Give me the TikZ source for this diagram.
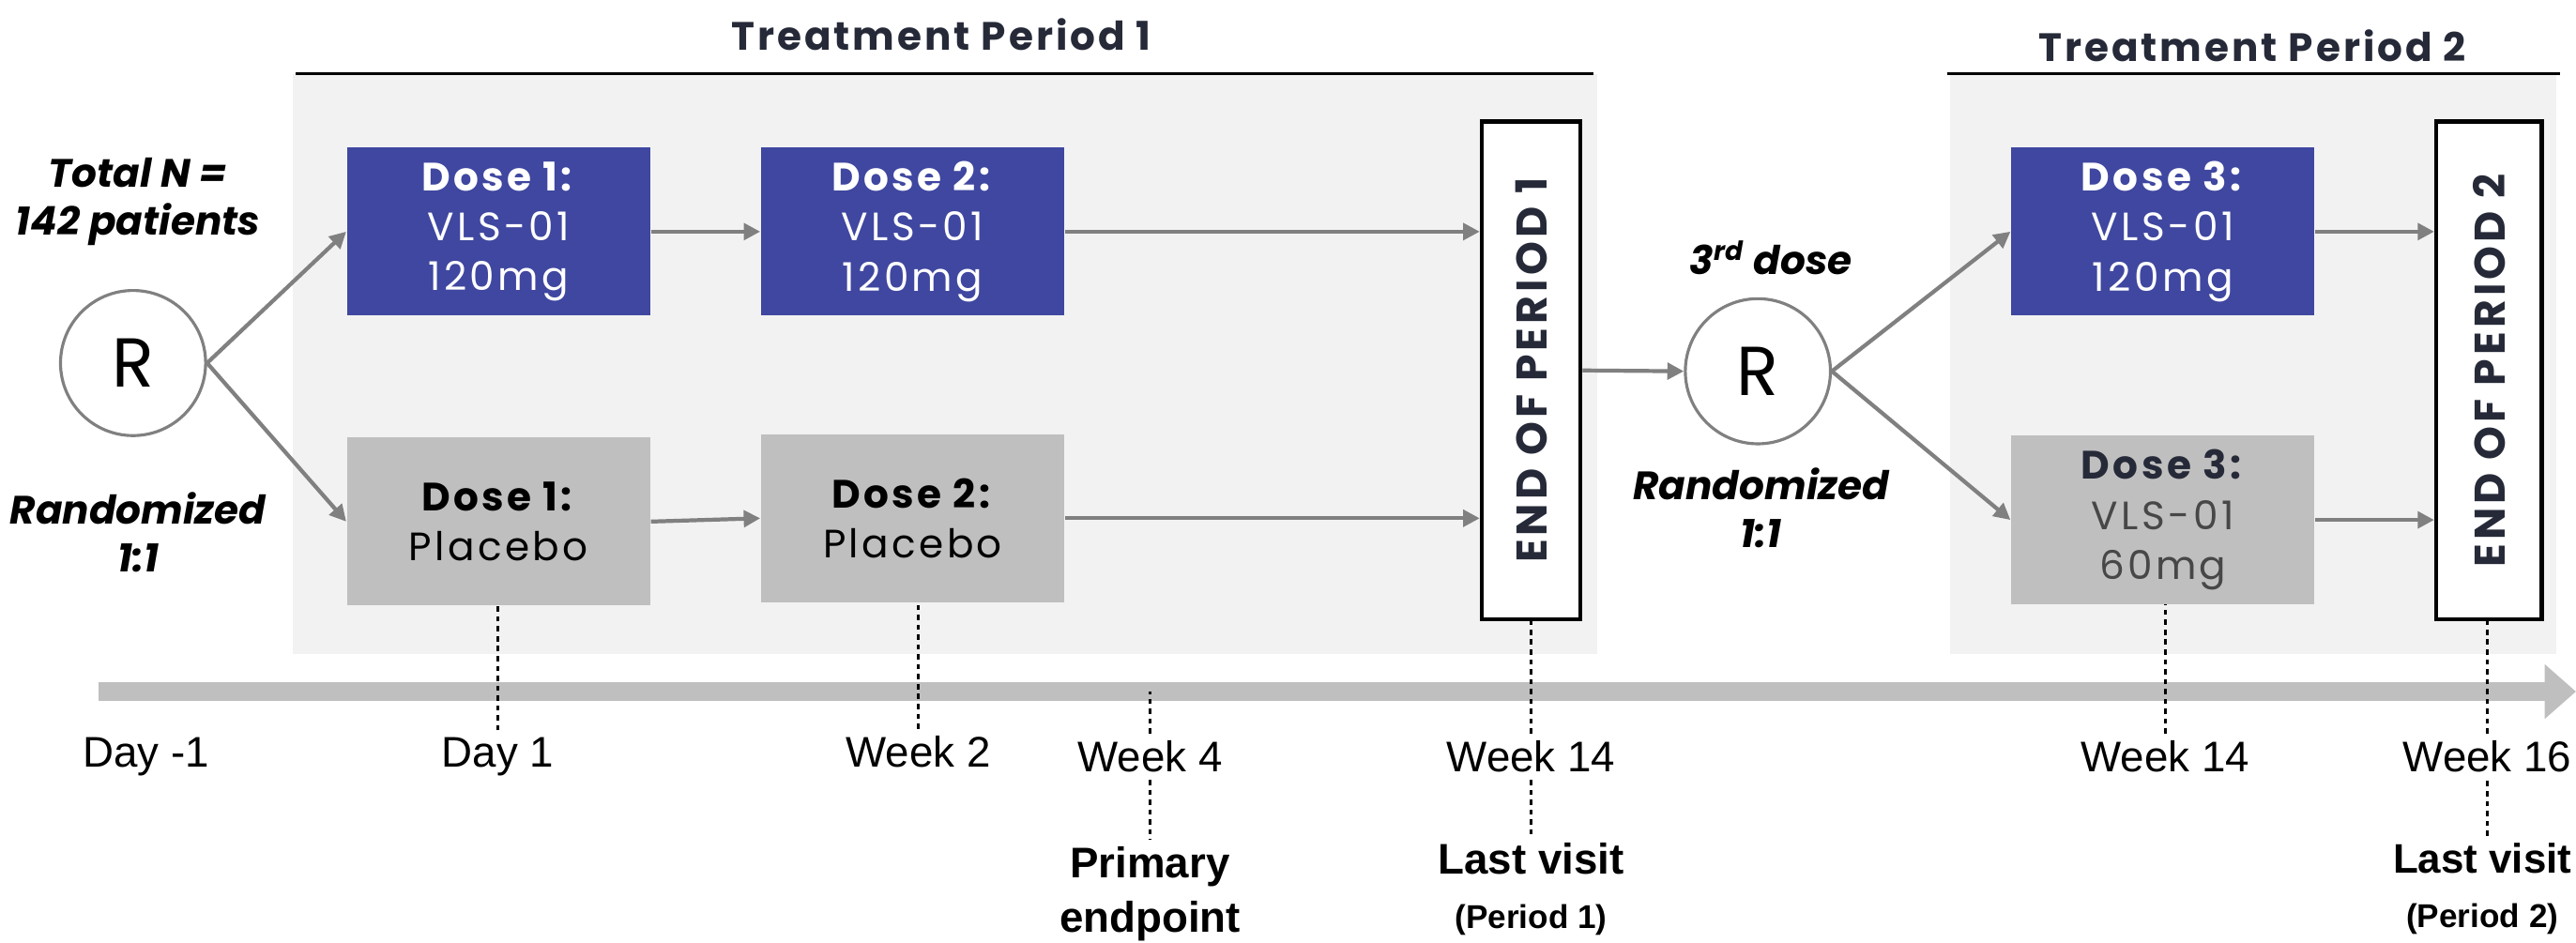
\documentclass[tikz,border=0pt]{standalone}
\usepackage{fontspec}
\setmainfont{Poppins}
\newfontfamily\tlfont{Liberation Sans}
\usetikzlibrary{arrows.meta,positioning}

\definecolor{doseblue}{RGB}{63,71,160}
\definecolor{placebogray}{RGB}{191,191,191}
\definecolor{periodbg}{RGB}{242,242,242}
\definecolor{titleink}{RGB}{38,42,56}
\definecolor{arrowgray}{RGB}{128,128,128}

\begin{document}
\begin{tikzpicture}[x=0.17506mm, y=-0.17506mm,
    dosebox/.style={minimum width=92pt, minimum height=51pt, inner sep=0pt,
      align=center, font=\fontsize{12}{15.2}\selectfont\addfontfeature{LetterSpace=8}},
    activebox/.style={dosebox, fill=doseblue, text=white},
    placebobox/.style={dosebox, fill=placebogray, text=black},
    endbox/.style={draw=black, line width=1.2pt, fill=white, minimum height=151pt,
      inner sep=0pt, text=titleink},
    endtext/.style={rotate=90, font=\bfseries\fontsize{13}{13}\selectfont\addfontfeature{LetterSpace=9}},
    randnode/.style={circle, draw=arrowgray, line width=0.9pt, fill=white,
      minimum size=44pt, inner sep=0pt, font=\fontsize{21}{21}\selectfont},
    periodtitle/.style={text=titleink, font=\bfseries\fontsize{12}{12}\selectfont\addfontfeature{LetterSpace=7}},
    arrow/.style={-{Triangle[length=5pt,width=5pt]}, arrowgray, line width=1.2pt},
    timeline/.style={-{Triangle[length=9.5pt,width=16pt]}, placebogray, line width=5.5pt},
    visit/.style={dash pattern=on 1.6pt off 1.4pt, line width=0.9pt},
    daylabel/.style={font=\tlfont\fontsize{13}{15}\selectfont, anchor=base, inner sep=2pt},
    milestone/.style={font=\tlfont\bfseries\fontsize{13}{16.5}\selectfont, align=center, inner sep=2pt},
    sidenote/.style={font=\bfseries\itshape\fontsize{12}{14.5}\selectfont, align=center}]
  \useasboundingbox (0,0) rectangle (1568,574);

  % period backgrounds and headers
  \fill[periodbg] (178,45) rectangle (972,398);
  \fill[periodbg] (1187,45) rectangle (1556,398);
  \node[periodtitle] (tp1) at (573,21) {Treatment Period 1};
  \node[periodtitle] (tp2) at (1371,28) {Treatment Period 2};
  \draw[line width=0.9pt] (180,45) -- (970,45);
  \draw[line width=0.9pt] (1185,45) -- (1558,45);

  % time axis
  \coordinate (tstart) at (60,421);
  \coordinate (tend) at (1568,421);
  \draw[timeline] (tstart) -- (tend);

  % randomisation 1
  \node[randnode] (r1) at (81,221) {R};
  \node[sidenote] (totaln) at (84,123) {Total N =\\142 patients};
  \node[sidenote] (rand1) at (84,324) {Randomized\\1:1};

  % period 1 arms
  \node[activebox] (dose1v) at (303.5,141) {\textbf{Dose 1:}\\VLS-01\\120mg};
  \node[activebox] (dose2v) at (555.5,141) {\textbf{Dose 2:}\\VLS-01\\120mg};
  \node[placebobox] (dose1p) at (303.5,317.5) {\textbf{Dose 1:}\\Placebo};
  \node[placebobox] (dose2p) at (555.5,315.5) {\textbf{Dose 2:}\\Placebo};
  \node[endbox, minimum width=30pt] (end1) at (932,225.5) {};
  \node[endtext, text=titleink] at (end1) {END OF PERIOD 1};

  % randomisation 2
  \node[randnode] (r2) at (1070,226) {R};
  \node[sidenote] (third) at (1078,157) {3\textsuperscript{rd} dose};
  \node[sidenote] (rand2) at (1072,309) {Randomized\\1:1};

  % period 2 arms
  \node[activebox] (dose3v) at (1316.5,141) {\textbf{Dose 3:}\\VLS-01\\120mg};
  \node[placebobox, text=black!72] (dose3l) at (1316.5,316.5)
    {\textcolor{titleink}{\textbf{Dose 3:}}\\VLS-01\\60mg};
  \node[endbox, minimum width=32pt] (end2) at (1515,225.5) {};
  \node[endtext, text=titleink] at (end2) {END OF PERIOD 2};

  % flow
  \draw[arrow] (r1.east) -- (dose1v.west);
  \draw[arrow] (r1.east) -- (dose1p.west);
  \draw[arrow] (dose1v) -- (dose2v);
  \draw[arrow] (dose1p.east) -- (dose2p.west);
  \draw[arrow] (dose2v.east) -- (end1.west |- dose2v.east);
  \draw[arrow] (dose2p.east) -- (end1.west |- dose2p.east);
  \draw[arrow] (end1.east) -- (r2.west);
  \draw[arrow] (r2.east) -- (dose3v.west);
  \draw[arrow] (r2.east) -- (dose3l.west);
  \draw[arrow] (dose3v.east) -- (end2.west |- dose3v.east);
  \draw[arrow] (dose3l.east) -- (end2.west |- dose3l.east);

  % visit labels
  \node[daylabel] (dm1) at (89,467) {Day -1};
  \node[daylabel] (d1) at (303,467) {Day 1};
  \node[daylabel] (w2) at (559,467) {Week 2};
  \node[daylabel] (w4) at (700,470) {Week 4};
  \node[daylabel] (w14a) at (932,470) {Week 14};
  \node[daylabel] (w14b) at (1318,470) {Week 14};
  \node[daylabel] (w16) at (1514,470) {Week 16};
  \node[milestone] (pe) at (700,544) {Primary\\endpoint};
  \node[milestone] (lv1) at (932,541) {Last visit\\{\fontsize{10}{12}\selectfont(Period 1)}};
  \node[milestone, font=\tlfont\bfseries\fontsize{12.5}{16.5}\selectfont] (lv2) at (1511,541)
    {Last visit\\{\fontsize{10}{12}\selectfont(Period 2)}};

  % dotted guides
  \draw[visit] (d1.north) -- (d1.north |- dose1p.south);
  \draw[visit] (w2.north) -- (w2.north |- dose2p.south);
  \draw[visit] (w4.north) -- (w4.north |- tstart);
  \draw[visit] (w4.south) -- (pe.north);
  \draw[visit] (w14a.north) -- (w14a.north |- end1.south);
  \draw[visit] (w14a.south) -- (lv1.north);
  \draw[visit] (w14b.north) -- (w14b.north |- dose3l.south);
  \draw[visit] (w16.north) -- (w16.north |- end2.south);
  \draw[visit] (lv2.north -| w16.south) -- (w16.south);
\end{tikzpicture}
\end{document}
